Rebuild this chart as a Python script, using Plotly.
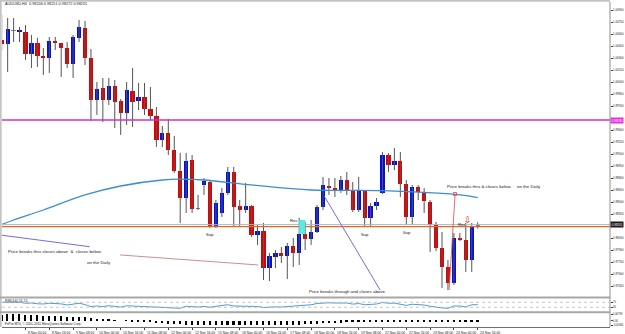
import plotly.graph_objects as go

# ---------------- data ----------------
opens = [1.00530, 1.00480, 1.00655, 1.00630, 1.00630, 1.00355, 1.00493, 1.00330, 1.00305, 1.00518,
         1.00493, 1.00430, 1.00230, 1.00555, 1.00680, 1.00305, 0.99780, 0.99930, 0.99780, 0.99955,
         0.99768, 0.99618, 0.99893, 0.99768, 0.99818, 0.99668, 0.99580, 0.99280, 0.99368, 0.99155,
         0.98893, 0.98555, 0.99030, 0.98430, 0.98718, 0.98755, 0.98205, 0.98368, 0.98618, 0.98880,
         0.98455, 0.98405, 0.98455, 0.98093, 0.98143, 0.97680, 0.97818, 0.97868, 0.97830, 0.97955,
         0.97868, 0.98105, 0.98043, 0.98130, 0.98443, 0.98705, 0.98680, 0.98643, 0.98780, 0.98655,
         0.98405, 0.98643, 0.98305, 0.98455, 0.98618, 0.99093, 0.98968, 0.99018, 0.98730, 0.98318,
         0.98693, 0.98618, 0.98505, 0.98218, 0.97930, 0.97693, 0.97493, 0.98055, 0.98030, 0.97780,
         0.98206]
highs = [1.00843, 1.00805, 1.00805, 1.00693, 1.00718, 1.00593, 1.00555, 1.00430, 1.00568, 1.00568,
         1.00493, 1.00505, 1.00593, 1.00780, 1.00768, 1.00418, 1.00005, 1.00055, 1.00055, 1.00030,
         0.99793, 1.00005, 1.00180, 0.99993, 0.99993, 0.99943, 0.99693, 0.99455, 0.99543, 0.99330,
         0.99118, 0.99118, 0.99093, 0.98593, 0.98805, 0.98768, 0.98530, 0.98680, 0.98943, 0.98943,
         0.98530, 0.98743, 0.98468, 0.98218, 0.98243, 0.97868, 0.97905, 0.97943, 0.97993, 0.98055,
         0.98305, 0.98255, 0.98280, 0.98468, 0.98818, 0.98805, 0.98805, 0.98830, 0.98880, 0.98755,
         0.98818, 0.98655, 0.98493, 0.98555, 0.99130, 0.99118, 0.99180, 0.99130, 0.98780, 0.98718,
         0.98718, 0.98680, 0.98530, 0.98255, 0.98130, 0.97780, 0.98118, 0.98118, 0.98243, 0.98243,
         0.98251]
lows = [1.00405, 1.00130, 1.00505, 1.00505, 1.00280, 1.00180, 1.00193, 1.00093, 1.00118, 1.00405,
        1.00068, 1.00180, 1.00055, 1.00505, 1.00218, 0.99518, 0.99593, 0.99505, 0.99718, 0.99430,
        0.99343, 0.99468, 0.99443, 0.99655, 0.99593, 0.99530, 0.99193, 0.99193, 0.99093, 0.98868,
        0.98243, 0.98368, 0.98368, 0.98405, 0.98593, 0.98180, 0.98180, 0.98318, 0.98593, 0.98193,
        0.98193, 0.98368, 0.98068, 0.97968, 0.97530, 0.97518, 0.97680, 0.97743, 0.97543, 0.97693,
        0.97718, 0.97905, 0.97968, 0.98118, 0.98405, 0.98593, 0.98568, 0.98618, 0.98593, 0.98380,
        0.98380, 0.98193, 0.98193, 0.98405, 0.98605, 0.98880, 0.98905, 0.98568, 0.98218, 0.98218,
        0.98530, 0.98368, 0.97880, 0.97893, 0.97430, 0.97405, 0.97468, 0.98018, 0.97630, 0.97630,
        0.98172]
closes = [1.00480, 1.00668, 1.00643, 1.00655, 1.00355, 1.00493, 1.00330, 1.00305, 1.00518, 1.00493,
          1.00430, 1.00230, 1.00568, 1.00693, 1.00305, 0.99780, 0.99918, 0.99780, 0.99955, 0.99755,
          0.99618, 0.99905, 0.99755, 0.99818, 0.99668, 0.99580, 0.99280, 0.99368, 0.99155, 0.98893,
          0.98555, 0.99018, 0.98418, 0.98418, 0.98768, 0.98205, 0.98493, 0.98618, 0.98880, 0.98443,
          0.98405, 0.98455, 0.98093, 0.98143, 0.97680, 0.97830, 0.97868, 0.97830, 0.97955, 0.97868,
          0.98105, 0.98043, 0.98130, 0.98443, 0.98718, 0.98680, 0.98643, 0.98780, 0.98655, 0.98405,
          0.98643, 0.98305, 0.98455, 0.98505, 0.99093, 0.98968, 0.99018, 0.98730, 0.98318, 0.98693,
          0.98630, 0.98518, 0.98218, 0.97930, 0.97693, 0.97493, 0.98055, 0.98030, 0.97780, 0.98205,
          0.98201]

# moving average, sampled at bar indices
ma_bars = [0, 2, 7, 14, 20, 27, 30, 34, 42, 52, 64, 77, 80]
ma_vals = [0.98224, 0.98280, 0.98405, 0.98593, 0.98705, 0.98780, 0.98790, 0.98780,
           0.98718, 0.98655, 0.98646, 0.98593, 0.98559]

rsi = [70, 72, 71, 70, 62, 64, 58, 56, 62, 60,
       57, 48, 58, 62, 52, 35, 40, 36, 42, 36,
       32, 42, 40, 42, 38, 36, 30, 32, 28, 24,
       22, 38, 32, 32, 36, 30, 38, 44, 50, 40,
       38, 42, 34, 36, 28, 32, 33, 32, 36, 35,
       45, 44, 50, 60, 66, 66, 64, 67, 64, 55,
       60, 50, 55, 56, 68, 62, 63, 55, 45, 54,
       52, 48, 38, 30, 25, 22, 40, 40, 33, 50,
       51.11]

hist = [0.0075, 0.0078, 0.0079, 0.0078, 0.0076, 0.0072, 0.0068, 0.0064, 0.0060, 0.0056,
        0.0052, 0.0048, 0.0045, 0.0043, 0.0040, 0.0032, 0.0025, 0.0018, 0.0012, 0.0006,
        0.0000, -0.0004, -0.0008, -0.0012, -0.0016, -0.0020, -0.0026, -0.0031, -0.0036, -0.0041,
        -0.0046, -0.0050, -0.0053, -0.0055, -0.0056, -0.0057, -0.0057, -0.0056, -0.0054, -0.0053,
        -0.0052, -0.0051, -0.0052, -0.0053, -0.0055, -0.0057, -0.0056, -0.0055, -0.0053, -0.0051,
        -0.0048, -0.0045, -0.0042, -0.0038, -0.0033, -0.0029, -0.0026, -0.0023, -0.0020, -0.0018,
        -0.0017, -0.0016, -0.0015, -0.0014, -0.0011, -0.0009, -0.0007, -0.0006, -0.0006, -0.0006,
        -0.0006, -0.0007, -0.0009, -0.0011, -0.0014, -0.0017, -0.0017, -0.0016, -0.0016, -0.0014,
        -0.0012]

time_label_bars = [0, 4, 8, 12, 16, 20, 24, 28, 32, 36, 40, 44, 48, 52, 56, 60, 64, 68, 72, 76, 80]
time_labels = ["5 Nov 2010", "8 Nov 00:00", "8 Nov 16:00", "9 Nov 08:00", "10 Nov 00:00",
               "10 Nov 16:00", "11 Nov 08:00", "12 Nov 00:00", "12 Nov 16:00", "15 Nov 08:00",
               "16 Nov 00:00", "16 Nov 16:00", "17 Nov 08:00", "18 Nov 00:00", "18 Nov 16:00",
               "19 Nov 08:00", "22 Nov 00:00", "22 Nov 16:00", "23 Nov 08:00", "24 Nov 00:00",
               "24 Nov 16:00"]

price_ticks = [1.00900, 1.00750, 1.00600, 1.00450, 1.00300, 1.00150, 1.00000, 0.99850, 0.99700,
               0.99400, 0.99250, 0.99100, 0.98950, 0.98800, 0.98650, 0.98500, 0.98350,
               0.98050, 0.97900, 0.97750, 0.97600, 0.97450]

magenta_level = 0.99530
orange_level = 0.98197
bid_level = 0.98222
bid_label = "0.98201"

# drawn objects: (bar, price) endpoints
tl1 = [(-0.3, 0.98093), (14.8, 0.97946)]
tl2 = [(19.9, 0.97843), (43.1, 0.97718)]
tl3 = [(54.2, 0.98580), (63.6, 0.97405)]
tl_red = [(75.2, 0.97405), (76.2, 0.98605)]
res_box = [(50.0, 0.98105), (51.0, 0.98280)]

notes = [
    ("Price breaks thru closes above  &  closes below", 0.75, 0.97884),
    ("on the Daily", 14.0, 0.97751),
    ("Price breaks through and closes above", 51.3, 0.97384),
    ("Price breaks thru & closes below", 74.5, 0.98697),
    ("on the Daily", 86.3, 0.98705),
]
sup_res = [("Sup", 35.0, 0.98093), ("Sup", 61.1, 0.98105), ("Sup", 68.2, 0.98118),
           ("Res", 49.0, 0.98280), ("Res", 77.2, 0.98230)]

# ---------------- layout helpers ----------------
W, H = 625, 334
ML, MR, MT, MB = 2, 15, 2, 7
PW, PH = W - ML - MR, H - MT - MB


def fx(px):
    return (px - ML) / PW


def fy(py):
    return (H - MB - py) / PH


n = len(opens)
idx = list(range(n))
RED, BLUE, GREY = "#e00000", "#0010e0", "#808080"
cols, base, hgt = [], [], []
for o, c in zip(opens, closes):
    if abs(c - o) < 0.00015:
        cols.append(GREY)
    elif c > o:
        cols.append(BLUE)
    else:
        cols.append(RED)
    base.append(min(o, c))
    hgt.append(max(abs(c - o), 0.00009))

wx, wy = [], []
for i, h, l in zip(idx, highs, lows):
    wx += [i, i, None]
    wy += [h, l, None]

fig = go.Figure()
fig.add_trace(go.Scatter(x=wx, y=wy, mode="lines", line=dict(color="#555555", width=1),
                         hoverinfo="skip", yaxis="y"))
fig.add_trace(go.Bar(x=idx, y=hgt, base=base, marker=dict(color=cols, line=dict(width=0)),
                     width=0.72, yaxis="y", hoverinfo="skip"))
fig.add_trace(go.Scatter(x=ma_bars, y=ma_vals, mode="lines",
                         line=dict(color="#3a8ed2", width=1.3, shape="spline"), yaxis="y"))
fig.add_trace(go.Scatter(x=[tl_red[1][0]], y=[tl_red[1][1]], mode="markers",
                         marker=dict(symbol="square-open", size=3, color="#e04040",
                                     line=dict(width=0.8)), yaxis="y"))
fig.add_trace(go.Scatter(x=idx, y=rsi, mode="lines", line=dict(color="#4f9ad6", width=1),
                         yaxis="y2"))
fig.add_trace(go.Bar(x=idx, y=hist, marker=dict(color="#000000", line=dict(width=0)),
                     width=0.28, yaxis="y3"))

shapes = []
# horizontal levels
shapes.append(dict(type="line", xref="paper", yref="y", x0=0, x1=1, y0=magenta_level,
                   y1=magenta_level, line=dict(color="#cc33cc", width=1.3)))
shapes.append(dict(type="line", xref="paper", yref="y", x0=0, x1=1, y0=bid_level,
                   y1=bid_level, line=dict(color="#b4b4b4", width=1)))
shapes.append(dict(type="line", xref="paper", yref="y", x0=0, x1=1, y0=orange_level,
                   y1=orange_level, line=dict(color="#dc6a2c", width=1.2)))
# trend lines
for seg, colr in [(tl1, "#6a5acd"), (tl2, "#c88080"), (tl3, "#6a5acd"), (tl_red, "#e05a5a")]:
    shapes.append(dict(type="line", xref="x", yref="y", x0=seg[0][0], y0=seg[0][1],
                       x1=seg[1][0], y1=seg[1][1], line=dict(color=colr, width=0.9)))
shapes.append(dict(type="rect", xref="x", yref="y", x0=res_box[0][0], y0=res_box[0][1],
                   x1=res_box[1][0], y1=res_box[1][1], fillcolor="#55ece6",
                   line=dict(width=0), layer="above"))
# RSI levels
for lv in (70, 30):
    shapes.append(dict(type="line", xref="paper", yref="y2", x0=0, x1=1, y0=lv, y1=lv,
                       line=dict(color="#b8b8b8", width=0.8, dash="dot")))
# frame
shapes.append(dict(type="rect", xref="paper", yref="paper", x0=fx(0), x1=fx(610),
                   y0=fy(1.7), y1=fy(0), fillcolor="#c4c4c4", line=dict(width=0)))
shapes.append(dict(type="rect", xref="paper", yref="paper", x0=fx(0), x1=fx(1.7),
                   y0=fy(327), y1=fy(0), fillcolor="#c4c4c4", line=dict(width=0)))
for py in (297.4, 312.3):
    shapes.append(dict(type="line", xref="paper", yref="paper", x0=fx(0), x1=1,
                       y0=fy(py), y1=fy(py), line=dict(color="#a8a8a8", width=2)))
shapes.append(dict(type="line", xref="paper", yref="paper", x0=1, x1=1, y0=0, y1=1,
                   line=dict(color="#909090", width=1)))

F = "Liberation Sans, Arial, sans-serif"
ann = []
ann.append(dict(xref="paper", yref="paper", x=fx(2.5), y=fy(4.2), xanchor="left",
                yanchor="middle", showarrow=False, text="AUDUSD,H4  0.98206 0.98251 0.98172 0.98201",
                font=dict(size=3.8, color="#202020", family=F)))
for t, bx, pr in notes:
    ann.append(dict(xref="x", yref="y", x=bx, y=pr, xanchor="left", yanchor="middle",
                    showarrow=False, text=t, font=dict(size=4.4, color="#202020", family=F)))
for t, bx, pr in sup_res:
    ann.append(dict(xref="x", yref="y", x=bx, y=pr, xanchor="center", yanchor="middle",
                    showarrow=False, text=t, font=dict(size=4.2, color="#202020", family=F)))
ann.append(dict(xref="x", yref="y", x=78.3, y=0.98283, xanchor="center", yanchor="middle",
                showarrow=False, text="⇩", font=dict(size=9, color="#e02020", family="DejaVu Sans")))
# right price boxes
ann.append(dict(xref="paper", yref="y", x=1, y=magenta_level, xanchor="left", yanchor="middle",
                showarrow=False, text="%.5f" % magenta_level, bgcolor="#dd33dd", borderpad=0.5,
                font=dict(size=3.0, color="#ffffff", family=F)))
ann.append(dict(xref="paper", yref="y", x=1, y=bid_level, xanchor="left", yanchor="middle",
                showarrow=False, text=bid_label, bgcolor="#1a1a1a", borderpad=0.5,
                font=dict(size=3.0, color="#ffffff", family=F)))
# sub-window texts
ann.append(dict(xref="paper", yref="paper", x=fx(2.5), y=fy(301), xanchor="left", yanchor="middle",
                showarrow=False, text="RSI(14) 51.11", font=dict(size=3.7, color="#202020", family=F)))
ann.append(dict(xref="paper", yref="paper", x=fx(2.5), y=fy(323.6), xanchor="left", yanchor="middle",
                showarrow=False, text="FxPro MT4, © 2001-2010 MetaQuotes Software Corp.",
                font=dict(size=3.2, color="#202020", family=F)))
for b, t in zip(time_label_bars, time_labels):
    ann.append(dict(xref="x", yref="paper", x=b, y=fy(328.5), xanchor="left", yanchor="top",
                    xshift=0.5, showarrow=False, text=t, font=dict(size=3.4, color="#202020", family=F)))

yfont = dict(size=2.9, color="#202020", family=F)
sfont = dict(size=2.6, color="#202020", family=F)
fig.update_layout(
    width=W, height=H, margin=dict(l=ML, r=MR, t=MT, b=MB, autoexpand=False),
    paper_bgcolor="#ffffff", plot_bgcolor="#ffffff", showlegend=False,
    barmode="overlay", bargap=0,
    xaxis=dict(range=[(2 - 1.7) / 5.95, (610 - 1.7) / 5.95], anchor="y3", showgrid=False,
               zeroline=False, showticklabels=False, ticks="outside", ticklen=2,
               tickcolor="#404040", tickvals=time_label_bars, showline=True,
               linecolor="#707070", linewidth=1),
    yaxis=dict(domain=[fy(296), 1], range=[1.0103 - 296 * 0.000125, 1.0103 - 2 * 0.000125],
               side="right", anchor="x", showgrid=False, zeroline=False,
               tickvals=price_ticks, ticktext=["%.5f" % v for v in price_ticks],
               ticks="outside", ticklen=1.5, tickcolor="#404040", tickfont=yfont),
    yaxis2=dict(domain=[fy(311), fy(298.5)], range=[0, 100], side="right", anchor="x",
                showgrid=False, zeroline=False, tickvals=[30, 70], ticks="outside",
                ticklen=1.5, tickcolor="#404040", tickfont=sfont),
    yaxis3=dict(domain=[0, fy(313.3)], range=[-0.0075, 0.0095], side="right", anchor="x",
                showgrid=False, zeroline=False, tickvals=[0.00799, 0, -0.00566],
                ticktext=["0.00799", "0.00", "-0.00566"], ticks="outside", ticklen=1.5,
                tickcolor="#404040", tickfont=sfont),
    shapes=shapes, annotations=ann,
)

fig.write_html("out.html", config={"displayModeBar": False})
